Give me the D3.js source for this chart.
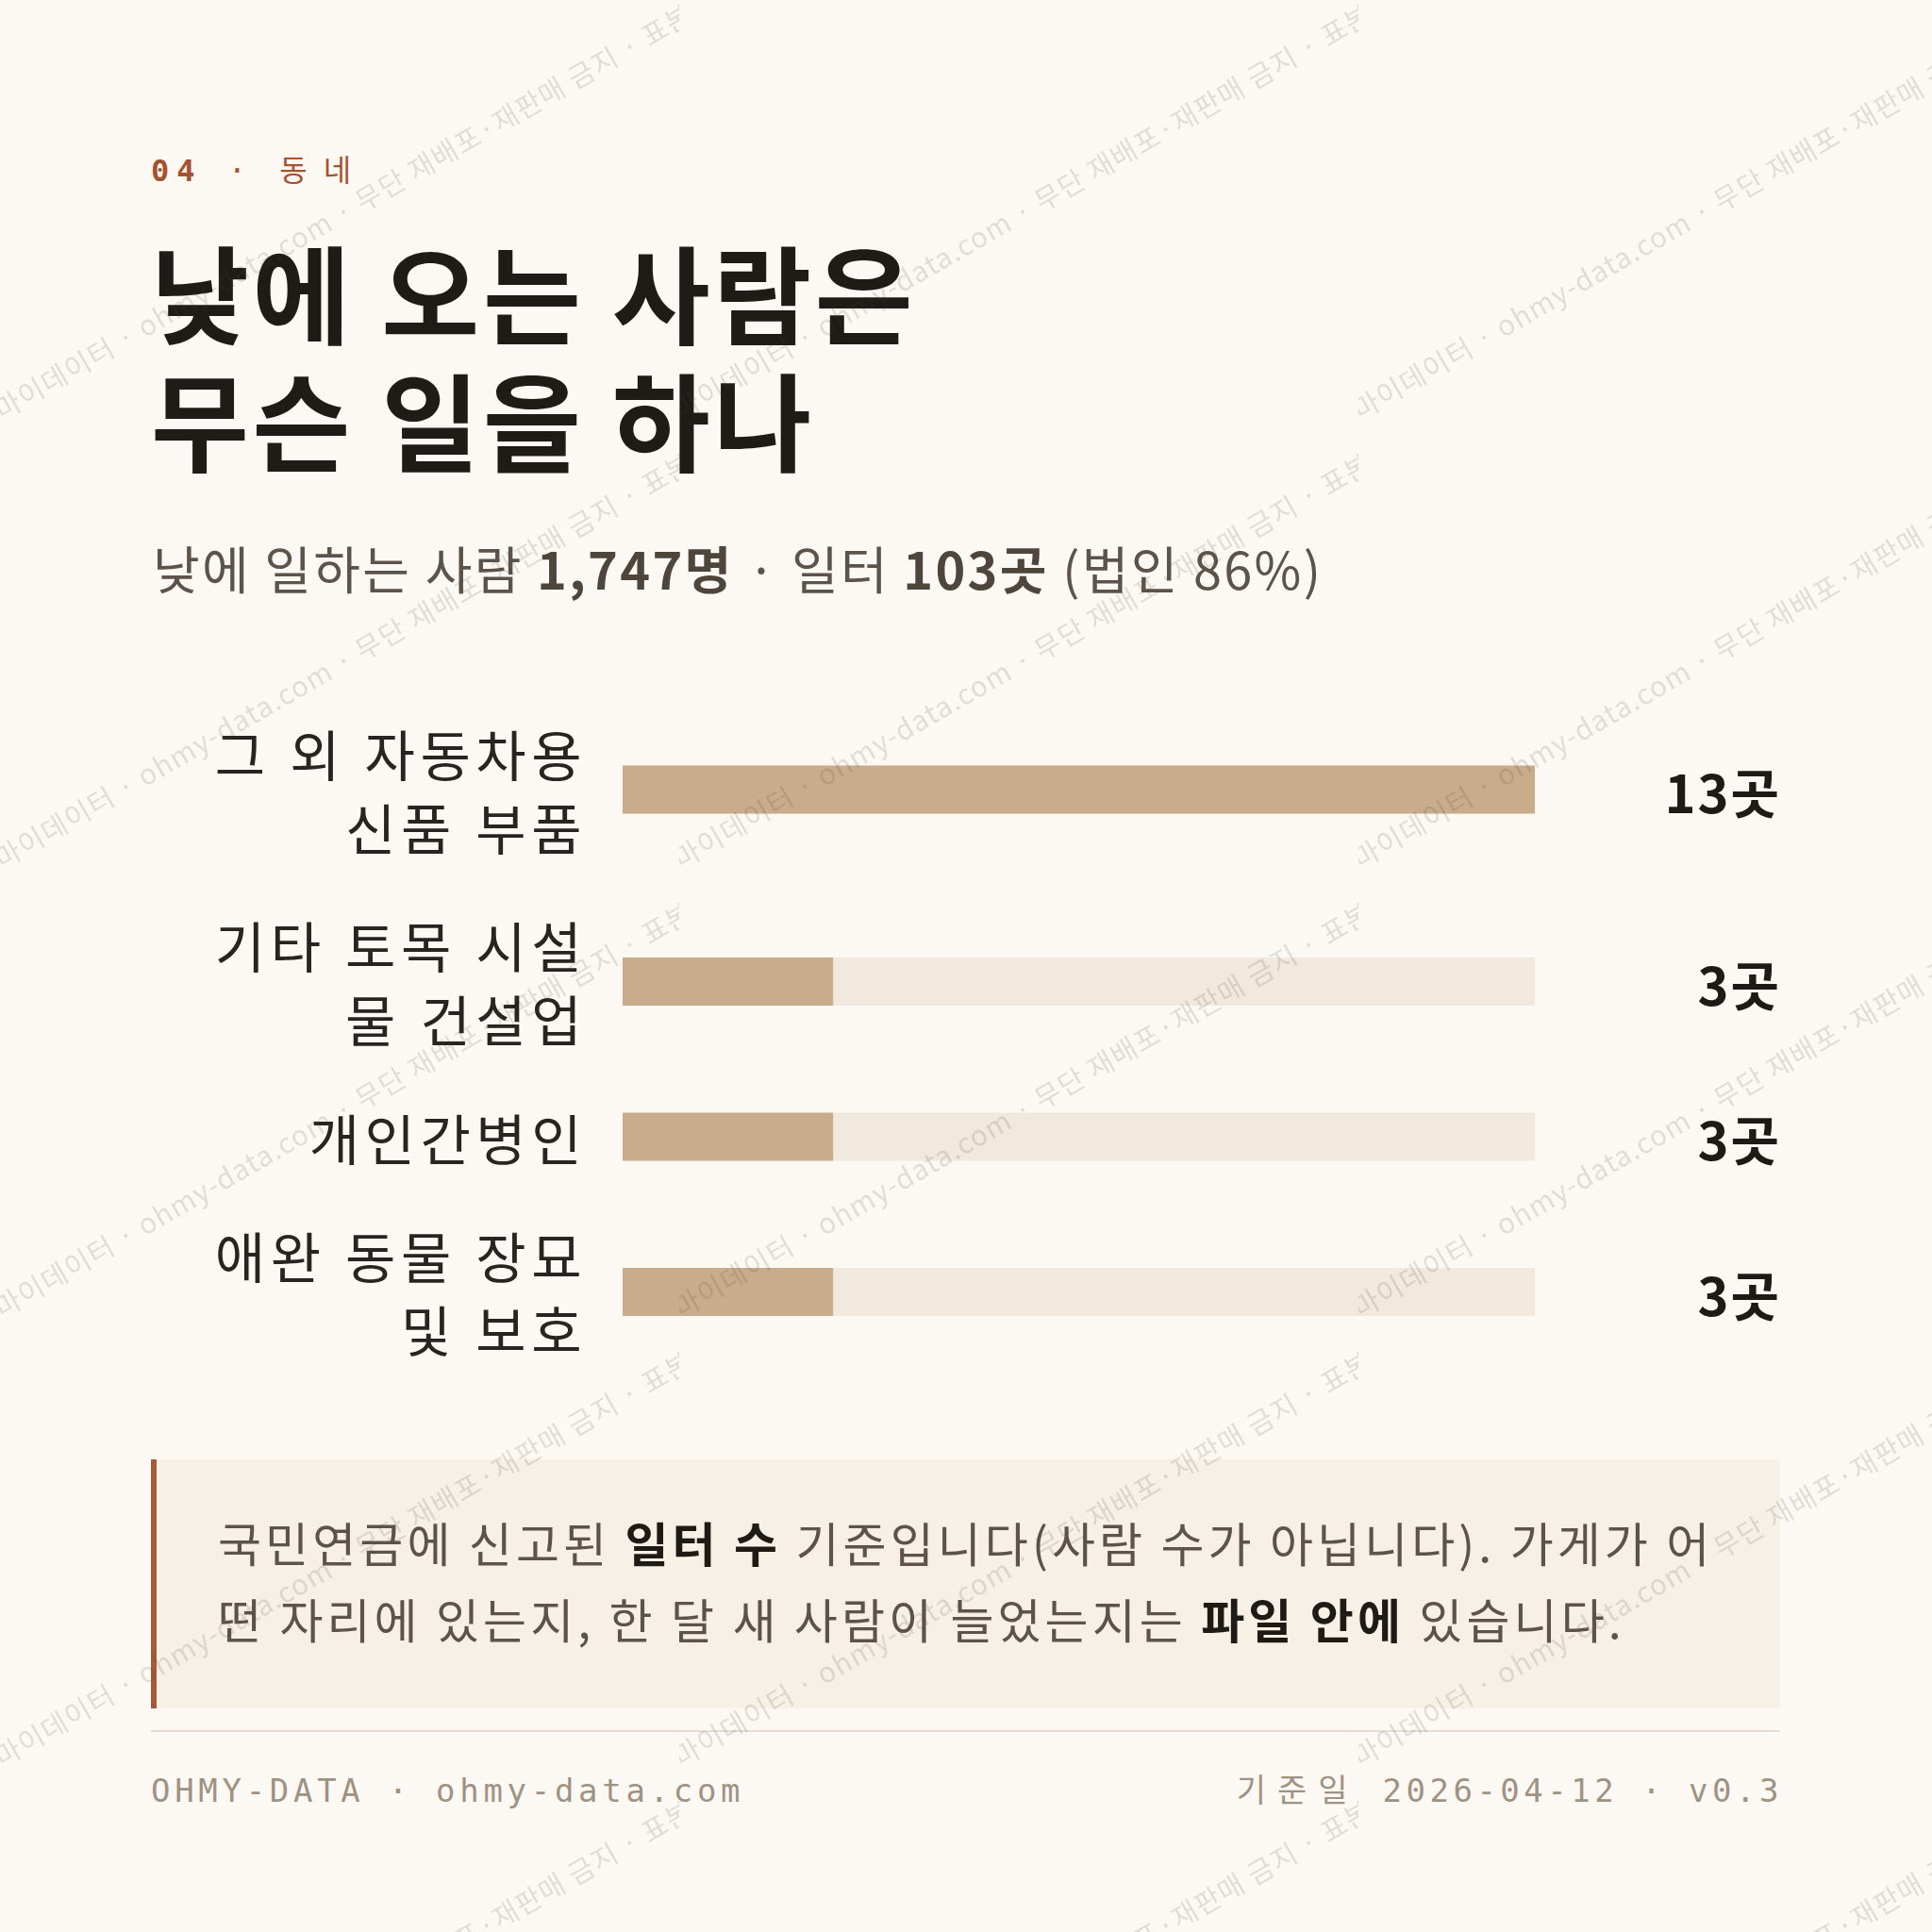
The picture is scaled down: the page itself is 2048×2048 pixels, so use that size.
<!DOCTYPE html>
<html><head><meta charset="utf-8">
<script src="https://cdn.jsdelivr.net/npm/d3@7/dist/d3.min.js"></script>
<style>html,body{margin:0;padding:0;background:#fcf9f4;} svg{display:block}</style>
</head><body>
<svg id="c" width="2048" height="2048"></svg>
<script>
// ---- data ----
const kickerNum = "04";
const kickerText = "동네";
const titleLines = ["낮에 오는 사람은", "무슨 일을 하나"];
const subtitleParts = [["낮에 일하는 사람 ", false], ["1,747명", true], [" · 일터 ", false], ["103곳", true], [" (법인 86%)", false]];
const categories = ["그 외 자동차용 신품 부품", "기타 토목 시설물 건설업", "개인간병인", "애완 동물 장묘 및 보호"];
const categoryLines = [["그 외 자동차용", "신품 부품"], ["기타 토목 시설", "물 건설업"], ["개인간병인"], ["애완 동물 장묘", "및 보호"]];
const values = [13, 3, 3, 3];
const valueUnit = "곳";
const noteLines = [
  [["국민연금에 신고된 ", false], ["일터 수", true], [" 기준입니다(사람 수가 아닙니다). 가게가 어", false]],
  [["떤 자리에 있는지, 한 달 새 사람이 늘었는지는 ", false], ["파일 안에", true], [" 있습니다.", false]]
];
const footerLeft = "OHMY-DATA · ohmy-data.com";
const footerRightLabel = "기준일";
const footerRightValue = " 2026-04-12 · v0.3";
const watermarkText = "마이데이터 · ohmy-data.com · 무단 재배포·재판매 금지 · 표본 ·";

// ---- drawing ----
const W = 2048, H = 2048;
const SANS = "'Noto Sans CJK KR','Noto Sans',sans-serif";
const MONO = "'DejaVu Sans Mono','Noto Sans CJK KR',monospace";
const svg = d3.select("#c");
const defs = svg.append("defs");

svg.append("rect").attr("width", W).attr("height", H).attr("fill", "#fcf9f4");

// kicker
const k = svg.append("text").attr("x", 160).attr("y", 192)
  .attr("font-family", MONO).attr("font-size", 32).attr("letter-spacing", 8).attr("fill", "#a5532f");
k.append("tspan").attr("font-weight", 700).text(kickerNum);
k.append("tspan").text(" · ");
k.append("tspan").attr("letter-spacing", 17).text(kickerText);

// title
svg.append("g").selectAll("text").data(titleLines).join("text")
  .attr("x", 160).attr("y", (d, i) => 356 + i * 135)
  .attr("font-family", SANS).attr("font-weight", 700).attr("font-size", 113)
  .attr("letter-spacing", 3.6).attr("fill", "#1f1b17").text(d => d);

// subtitle
const st = svg.append("text").attr("x", 162).attr("y", 625)
  .attr("font-family", SANS).attr("font-size", 54).attr("letter-spacing", 2.3).attr("fill", "#5c544b");
st.selectAll("tspan").data(subtitleParts).join("tspan")
  .attr("font-weight", d => d[1] ? 700 : 400)
  .attr("fill", d => d[1] ? "#4e463d" : "#5c544b")
  .text(d => d[0]);

// bar layout
const lineH = 78, gap = 47.5, startTop = 759;
let acc = startTop;
const centers = categoryLines.map(lines => {
  const c = acc + (lines.length * lineH) / 2;
  acc += lines.length * lineH + gap;
  return c;
});
const y = d3.scaleOrdinal().domain(categories).range(centers);
const x = d3.scaleLinear().domain([0, d3.max(values)]).range([660, 1627]);
const barH = 51;
const rows = categories.map((c, i) => ({ cat: c, lines: categoryLines[i], v: values[i] }));

const g = svg.append("g");
g.selectAll("rect.track").data(rows).join("rect").attr("class", "track")
  .attr("x", x(0)).attr("width", x(d3.max(values)) - x(0))
  .attr("y", d => y(d.cat) - barH / 2).attr("height", barH).attr("fill", "#f1e9dd");
g.selectAll("rect.bar").data(rows).join("rect").attr("class", "bar")
  .attr("x", x(0)).attr("width", d => x(d.v) - x(0))
  .attr("y", d => y(d.cat) - barH / 2).attr("height", barH).attr("fill", "#c8ac8b");

const labelFs = 58;
g.selectAll("g.lab").data(rows).join("g").attr("class", "lab")
  .each(function (d) {
    const n = d.lines.length;
    d3.select(this).selectAll("text").data(d.lines).join("text")
      .attr("x", 622)
      .attr("y", (t, i) => y(d.cat) + 3.5 + (i - (n - 1) / 2) * lineH + 0.37 * labelFs)
      .attr("text-anchor", "end").attr("font-family", SANS).attr("font-size", labelFs)
      .attr("letter-spacing", 5.5).attr("word-spacing", 2)
      .attr("fill", "#2a2420").text(t => t);
  });

g.selectAll("text.val").data(rows).join("text").attr("class", "val")
  .attr("x", 1888).attr("y", d => y(d.cat) + 25)
  .attr("text-anchor", "end").attr("font-family", SANS).attr("font-weight", 700)
  .attr("font-size", 56).attr("letter-spacing", 2).attr("fill", "#1e1a16").text(d => d.v + valueUnit);

// note box
svg.append("rect").attr("x", 160).attr("y", 1547).attr("width", 1727).attr("height", 264).attr("fill", "#f7f0e6");
svg.append("rect").attr("x", 160).attr("y", 1547).attr("width", 6).attr("height", 264).attr("fill", "#a65a3a");
const nt = svg.append("g");
noteLines.forEach((segs, i) => {
  const t = nt.append("text").attr("x", 231).attr("y", 1656 + i * 81)
    .attr("font-family", SANS).attr("font-size", 50).attr("letter-spacing", 4.1).attr("fill", "#5c544b");
  t.selectAll("tspan").data(segs).join("tspan")
    .attr("font-weight", d => d[1] ? 700 : 400)
    .attr("fill", d => d[1] ? "#1e1a16" : "#5c544b").text(d => d[0]);
});

// footer
svg.append("line").attr("x1", 160).attr("x2", 1887).attr("y1", 1835).attr("y2", 1835)
  .attr("stroke", "#e6ddd0").attr("stroke-width", 2);
svg.append("text").attr("x", 160).attr("y", 1910).attr("font-family", MONO).attr("font-size", 34)
  .attr("letter-spacing", 4.7).attr("fill", "#a09282").text(footerLeft);
const fr = svg.append("text").attr("x", 1890).attr("y", 1910).attr("text-anchor", "end").attr("font-family", MONO)
  .attr("font-size", 34).attr("letter-spacing", 4.5).attr("fill", "#a09282");
fr.append("tspan").attr("letter-spacing", 12).text(footerRightLabel);
fr.append("tspan").text(footerRightValue);

// watermark
const pat = defs.append("pattern").attr("id", "wm").attr("patternUnits", "userSpaceOnUse")
  .attr("width", 720).attr("height", 476);
pat.append("text").attr("transform", "translate(2,446) rotate(-30)")
  .attr("font-family", SANS).attr("font-size", 29.5).attr("letter-spacing", 1.2)
  .attr("fill", "rgba(70,60,50,0.15)").text(watermarkText);
svg.append("rect").attr("width", W).attr("height", H).attr("fill", "url(#wm)").attr("pointer-events", "none");
</script>
</body></html>
